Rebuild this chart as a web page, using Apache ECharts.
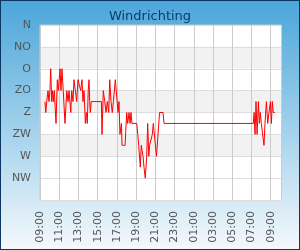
<!DOCTYPE html>
<html lang="nl">
<head>
    <meta charset="UTF-8">
    <title>Windrichting</title>
    <script type="text/javascript" src="https://cdn.jsdelivr.net/npm/echarts@6/dist/echarts.min.js"></script>
    <style>
        html, body { margin: 0; padding: 0; }
        #chart {
            width: 300px; height: 250px; box-sizing: border-box;
            border: 1px solid #0c3763;
            background: linear-gradient(to bottom, #4ba6da 0%, #f4f9fc 100%);
        }
    </style>
</head>
<body>
    <div id="chart"></div>
<script>
// meettijden (uu:mm), loopt door over middernacht
var tijden = [
    '09:31','09:36','09:42','09:50','09:56','10:02','10:07','10:13','10:17','10:23',
    '10:29','10:40','10:48','10:54','11:05','11:11','11:17','11:25','11:36','11:47',
    '11:55','12:01','12:12','12:18','12:26','12:32','12:40','12:49','12:57','13:05',
    '13:14','13:22','13:28','13:35','13:43','13:49','13:55','14:01','14:06','14:10',
    '14:14','14:20','15:23','15:27','15:35','15:44','15:52','16:00','16:09','16:15',
    '16:23','16:31','16:38','16:42','16:50','17:07','17:13','17:19','17:28','17:32',
    '17:51','18:01','18:07','18:16','18:22','18:28','18:34','19:04','19:10','19:16',
    '19:26','19:32','19:43','19:49','19:57','20:06','20:12','20:19','20:24','20:33',
    '20:41','20:47','20:56','21:07','21:18','21:26','21:48','21:54',
    '07:11','07:16','07:22','07:28','07:35','07:43','07:49','07:55','08:01','08:08',
    '08:18','08:24','08:33','08:41','08:49','08:58','09:04','09:10','09:16','09:25'
];
// windrichting in graden
var richting = [
    157.5,180,157.5,135,157.5,135,90,157.5,135,157.5,
    135,202.5,112.5,135,90,135,90,135,202.5,135,
    157.5,135,180,135,157.5,112.5,112.5,157.5,112.5,112.5,
    135,112.5,157.5,135,202.5,180,202.5,135,112.5,157.5,
    180,157.5,157.5,225,135,157.5,180,157.5,180,112.5,
    157.5,180,157.5,157.5,112.5,180,157.5,225,202.5,247.5,
    247.5,180,202.5,180,202.5,180,202.5,202.5,225,247.5,
    292.5,247.5,270,292.5,315,270,202.5,270,247.5,247.5,
    225,202.5,202.5,270,270,180,180,202.5,
    202.5,180,225,157.5,225,157.5,202.5,180,202.5,202.5,
    247.5,202.5,157.5,202.5,180,157.5,202.5,157.5,180,180
];
var windLabels = ['N', 'NO', 'O', 'ZO', 'Z', 'ZW', 'W', 'NW'];

// minuten sinds 09:00 op dag 1
var data = [];
var vorige = -1;
for (var i = 0; i < tijden.length; i++) {
    var p = tijden[i].split(':');
    var m = (+p[0]) * 60 + (+p[1]) - 540;
    if (m < 0) m += 1440;
    while (m < vorige) m += 1440;
    vorige = m;
    data.push([m, richting[i]]);
}

var myChart = echarts.init(document.getElementById('chart'));

var option = {
    animation: false,
    title: {
        text: 'Windrichting',
        left: 'center',
        top: 4,
        textStyle: { fontFamily: 'DejaVu Sans', fontSize: 13, fontWeight: 'normal', color: '#0c3c6c' }
    },
    grid: {
        left: 39, right: 18, top: 24, bottom: 49,
        show: true, backgroundColor: '#fff', borderColor: '#cccccc', borderWidth: 1
    },
    xAxis: {
        type: 'value',
        min: 0,
        max: 1504,
        interval: 120,
        axisLine: { show: false },
        axisTick: { show: false },
        splitLine: { lineStyle: { color: '#cccccc', width: 1 } },
        axisLabel: {
            rotate: 90,
            margin: 11,
            showMaxLabel: false,
            fontFamily: 'DejaVu Sans',
            fontSize: 11,
            color: '#555',
            formatter: function (v) {
                if (v % 120 !== 0) return '';
                var h = (Math.round(v / 60) + 9) % 24;
                return (h < 10 ? '0' : '') + h + ':00';
            }
        }
    },
    yAxis: {
        type: 'value',
        inverse: true,
        min: 0,
        max: 360,
        interval: 45,
        axisLine: { show: false },
        axisTick: { show: false },
        splitLine: { lineStyle: { color: '#dddddd', width: 1 } },
        splitArea: {
            show: true,
            areaStyle: { color: ['#ffffff', '#f2f2f2', '#ffffff', '#f2f2f2', '#ffffff', '#f2f2f2', '#ffffff', '#ffffff'] }
        },
        axisLabel: {
            margin: 9,
            fontFamily: 'DejaVu Sans',
            fontSize: 11,
            color: '#555',
            formatter: function (v) {
                var k = Math.round(v / 45);
                return k < windLabels.length ? windLabels[k] : '';
            }
        }
    },
    series: [{
        name: 'Windrichting',
        type: 'line',
        showSymbol: false,
        lineStyle: { color: '#ff0000', width: 1 },
        data: data
    }]
};

myChart.setOption(option);
</script>
</body>
</html>
